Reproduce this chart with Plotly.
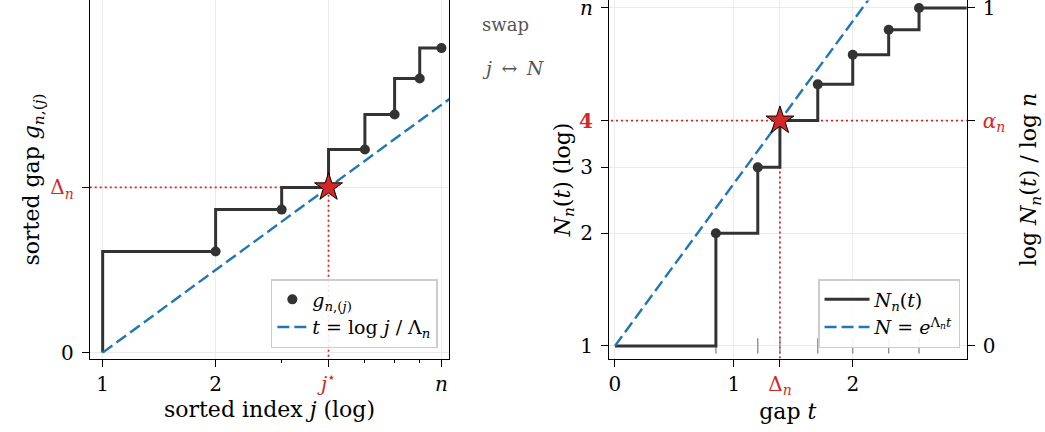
import numpy as np
import plotly.graph_objects as go

# ---------------- data ----------------
n = 8
Lambda_n = 1.0
j_idx = [1, 2, 3, 4, 5, 6, 7, 8]
gaps = [0.0, 0.848, 1.200, 1.386, 1.704, 1.998, 2.300, 2.555]
j_star = 4
N_counts = [1, 2, 3, 4, 5, 6, 7, 8]

Delta_n = np.log(j_star) / Lambda_n
alpha_n = np.log(j_star) / np.log(n)

RED = "#d62728"
BLUE = "#1f77b4"
DARK = "#333333"
GRID = "#ebebeb"
FONT = "DejaVu Serif"
FS = 20      # tick labels
FT = 22      # axis titles
FL = 19      # legend

# axis ranges
gap_lo, gap_hi = -0.05, 2.955
log_lo, log_hi = np.log10(0.925), np.log10(8.38)

fig = go.Figure()
DOT = dict(color=RED, width=1.8, dash="2px,3px")

# ---------------- left panel ----------------
fig.add_trace(go.Scatter(x=[0.5, j_star], y=[Delta_n, Delta_n], mode="lines", line=DOT,
                         showlegend=False, hoverinfo="skip", xaxis="x", yaxis="y"))
fig.add_trace(go.Scatter(x=[j_star, j_star], y=[-1, Delta_n], mode="lines", line=DOT,
                         showlegend=False, hoverinfo="skip", xaxis="x", yaxis="y"))
fig.add_trace(go.Scatter(x=j_idx, y=gaps, mode="lines", line_shape="vh",
                         line=dict(color=DARK, width=3),
                         showlegend=False, hoverinfo="skip", xaxis="x", yaxis="y"))
j_line = [1, 10]
fig.add_trace(go.Scatter(x=j_line, y=[np.log(v) / Lambda_n for v in j_line], mode="lines",
                         line=dict(color=BLUE, width=2.4, dash="12px,5px"),
                         name="<i>t</i> = log <i>j</i> / Λ<sub><i>n</i></sub>",
                         legend="legend", legendrank=2, xaxis="x", yaxis="y"))
dots_j = [j for j in j_idx[1:] if j != j_star]
dots_g = [g for j, g in zip(j_idx, gaps) if j in dots_j]
fig.add_trace(go.Scatter(x=dots_j, y=dots_g, mode="markers",
                         marker=dict(color=DARK, size=10),
                         name="<i>g</i><sub><i>n</i>,(<i>j</i>)</sub>",
                         legend="legend", legendrank=1, xaxis="x", yaxis="y"))
fig.add_trace(go.Scatter(x=[j_star], y=[Delta_n], mode="markers",
                         marker=dict(symbol="star", size=21, color=RED,
                                     line=dict(color="black", width=1)),
                         showlegend=False, hoverinfo="skip", xaxis="x", yaxis="y"))

# ---------------- right panel ----------------
fig.add_trace(go.Scatter(x=[-1, 5], y=[j_star, j_star], mode="lines", line=DOT,
                         showlegend=False, hoverinfo="skip", xaxis="x2", yaxis="y2"))
fig.add_trace(go.Scatter(x=[Delta_n, Delta_n], y=[0.5, j_star], mode="lines", line=DOT,
                         showlegend=False, hoverinfo="skip", xaxis="x2", yaxis="y2"))
fig.add_trace(go.Scatter(x=gaps[1:], y=[1] * (len(gaps) - 1), mode="markers",
                         marker=dict(symbol="line-ns", size=11,
                                     line=dict(color="#888888", width=1.3)),
                         showlegend=False, hoverinfo="skip", xaxis="x2", yaxis="y2"))
fig.add_trace(go.Scatter(x=[0.0] + gaps[1:] + [4.0], y=N_counts + [N_counts[-1]],
                         mode="lines", line_shape="hv",
                         line=dict(color=DARK, width=3),
                         name="<i>N</i><sub><i>n</i></sub>(<i>t</i>)",
                         legend="legend2", legendrank=1, xaxis="x2", yaxis="y2"))
t_line = [0.0, 3.0]
fig.add_trace(go.Scatter(x=t_line, y=[np.exp(Lambda_n * t) for t in t_line], mode="lines",
                         line=dict(color=BLUE, width=2.4, dash="12px,5px"),
                         name="<i>N</i> = <i>e</i><sup>Λ<sub><i>n</i></sub><i>t</i></sup>",
                         legend="legend2", legendrank=2, xaxis="x2", yaxis="y2"))
dots_t = [g for N, g in zip(N_counts, gaps) if N > 1 and N != j_star]
dots_N = [N for N in N_counts if N > 1 and N != j_star]
fig.add_trace(go.Scatter(x=dots_t, y=dots_N, mode="markers",
                         marker=dict(color=DARK, size=10),
                         showlegend=False, hoverinfo="skip", xaxis="x2", yaxis="y2"))
fig.add_trace(go.Scatter(x=[Delta_n], y=[j_star], mode="markers",
                         marker=dict(symbol="star", size=21, color=RED,
                                     line=dict(color="black", width=1)),
                         showlegend=False, hoverinfo="skip", xaxis="x2", yaxis="y2"))
# dummy for twin axis
fig.add_trace(go.Scatter(x=[1.0], y=[2.0], mode="markers", marker=dict(opacity=0),
                         showlegend=False, hoverinfo="skip", xaxis="x2", yaxis="y3"))

axis_common = dict(showline=True, linecolor="black", linewidth=1.3, mirror=True,
                   ticks="outside", ticklen=7, tickwidth=1.2, tickcolor="black",
                   gridcolor=GRID, gridwidth=1, zeroline=False,
                   ticklabeloverflow="allow", automargin=False,
                   tickfont=dict(family=FONT, size=FS, color="black"))

def red(s, bold=False):
    if bold:
        s = "<b>" + s + "</b>"
    return '<span style="color:%s">%s</span>' % (RED, s)

YDOM = [0.170, 0.999]
fig.update_layout(
    width=1045, height=432,
    margin=dict(l=0, r=0, t=0, b=0, autoexpand=False),
    paper_bgcolor="white", plot_bgcolor="white",
    font=dict(family=FONT, size=FS, color="black"),
    xaxis=dict(domain=[0.0861, 0.4297], type="log", range=[log_lo, log_hi],
               tickvals=[1, 2, j_star, n],
               ticktext=["1", "2", red("<i>j</i><sup>⋆</sup>"), "<i>n</i>"],
               minor=dict(tickvals=[3, 5, 6, 7], ticks="outside", ticklen=3,
                          tickcolor="black", showgrid=False),
               title=dict(text="sorted index <i>j</i> (log)", standoff=6,
                          font=dict(family=FONT, size=FT)),
               anchor="y", **axis_common),
    yaxis=dict(domain=YDOM, range=[gap_lo, gap_hi],
               tickvals=[0, Delta_n],
               ticktext=["0", red("Δ<sub><i>n</i></sub>")],
               ticklabelstandoff=4,
               title=dict(text="sorted gap <i>g</i><sub><i>n</i>,(<i>j</i>)</sub>", standoff=4,
                          font=dict(family=FONT, size=FT)),
               anchor="x", **axis_common),
    xaxis2=dict(domain=[0.5828, 0.925], range=[gap_lo, gap_hi],
                tickvals=[0, 1, Delta_n, 2],
                ticktext=["0", "1", red("Δ<sub><i>n</i></sub>"), "2"],
                title=dict(text="gap <i>t</i>", standoff=6,
                           font=dict(family=FONT, size=FT)),
                anchor="y2", **axis_common),
    yaxis2=dict(domain=YDOM, type="log", range=[log_lo, log_hi],
                tickvals=[1, 2, 3, j_star, n],
                ticktext=["1", "2", "3", red("4", bold=True), "<i>n</i>"],
                ticklabelstandoff=4,
                title=dict(text="<i>N</i><sub><i>n</i></sub>(<i>t</i>) (log)", standoff=2,
                           font=dict(family=FONT, size=FT)),
                anchor="x2", **axis_common),
    yaxis3=dict(domain=YDOM, type="log", range=[log_lo, log_hi],
                overlaying="y2", side="right", anchor="x2",
                tickvals=[1, j_star, n],
                ticktext=["0", red("<i>α</i><sub><i>n</i></sub>"), "1"],
                showgrid=False, showline=False, zeroline=False,
                ticks="outside", ticklen=7, tickwidth=1.2, tickcolor="black",
                ticklabeloverflow="allow", automargin=False, ticklabelstandoff=4,
                tickfont=dict(family=FONT, size=FS, color="black"),
                title=dict(text="log <i>N</i><sub><i>n</i></sub>(<i>t</i>) / log <i>n</i>", standoff=16,
                           font=dict(family=FONT, size=FT))),
    legend=dict(x=0.419, y=0.1944, xanchor="right", yanchor="bottom",
                bgcolor="rgba(255,255,255,0.85)", bordercolor="#cccccc", borderwidth=1.5,
                font=dict(family=FONT, size=FL), tracegroupgap=0),
    legend2=dict(x=0.9187, y=0.1944, xanchor="right", yanchor="bottom",
                 bgcolor="rgba(255,255,255,0.9)", bordercolor="#cccccc", borderwidth=1.5,
                 itemwidth=45,
                 font=dict(family=FONT, size=FL), tracegroupgap=0),
    annotations=[
        dict(text="swap", x=480 / 1045, y=1 - 25 / 432, xref="paper", yref="paper",
             xanchor="left", yanchor="middle", showarrow=False,
             font=dict(family=FONT, size=18, color="#555555")),
        dict(text="<i>j</i>\u2002↔\u2002<i>N</i>", x=480 / 1045, y=1 - 68 / 432,
             xref="paper", yref="paper",
             xanchor="left", yanchor="middle", showarrow=False,
             font=dict(family=FONT, size=19, color="#555555")),
    ],
)

fig.write_html("out.html", config={"displayModeBar": False},
               post_script="document.body.style.margin='0';document.body.style.padding='0';")
